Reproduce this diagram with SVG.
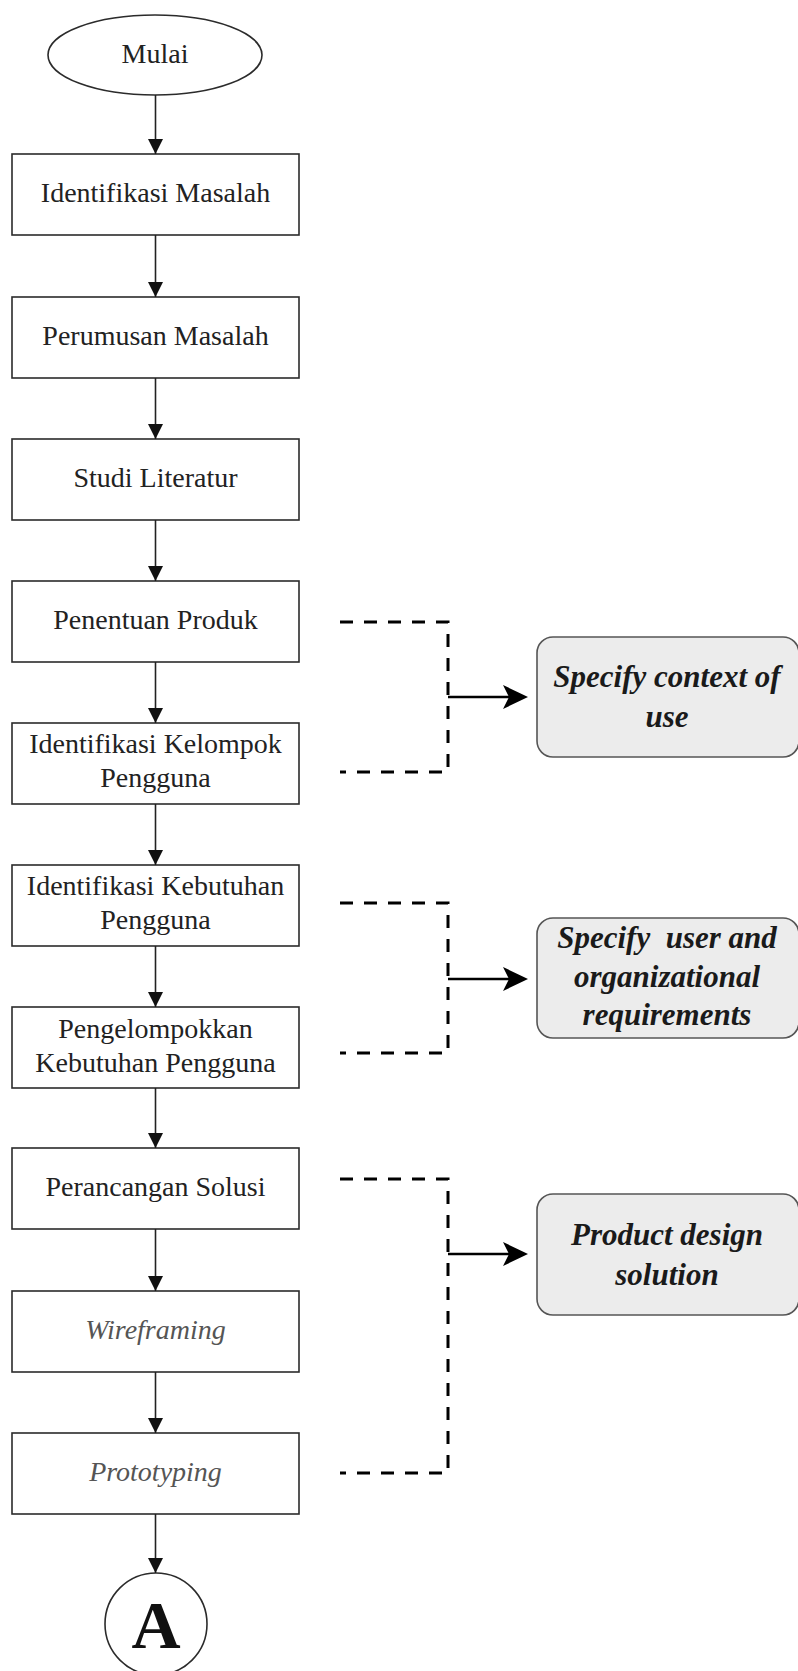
<svg xmlns="http://www.w3.org/2000/svg" width="798" height="1671" viewBox="0 0 798 1671">
  <style>
    .box { fill: #ffffff; stroke: #2b2b2b; stroke-width: 1.6; }
    .lbl { font-family: "Liberation Serif", "Times New Roman", serif; font-size: 28px; fill: #222222; text-anchor: middle; }
    .lbl-i { font-family: "Liberation Serif", "Times New Roman", serif; font-size: 28px; font-style: italic; fill: #555555; text-anchor: middle; }
    .phase { fill: #ececec; stroke: #555555; stroke-width: 1.6; }
    .phase-t { font-family: "Liberation Serif", "Times New Roman", serif; font-size: 31px; font-weight: bold; font-style: italic; fill: #1a1a1a; text-anchor: middle; }
    .flow { fill: none; stroke: #222222; stroke-width: 1.6; }
    .bracket { fill: none; stroke: #000000; stroke-width: 3; stroke-dasharray: 13 11; }
    .link { fill: none; stroke: #000000; stroke-width: 2.6; }
  </style>
  <defs>
    <marker id="down" markerUnits="userSpaceOnUse" markerWidth="16" markerHeight="16" viewBox="0 0 16 16" refX="15" refY="8" orient="auto">
      <path d="M0,0.5 L15,8 L0,15.5 Z" fill="#111111"/>
    </marker>
  </defs>

  <!-- start / end terminators -->
  <g id="start">
    <ellipse cx="155" cy="55" rx="107" ry="40" class="box"/>
    <text x="155" y="63" class="lbl">Mulai</text>
  </g>

  <!-- process steps -->
  <g id="identifikasi-masalah">
    <rect x="12" y="154" width="287" height="81" class="box"/>
    <text x="155.5" y="202" class="lbl">Identifikasi Masalah</text>
  </g>
  <g id="perumusan-masalah">
    <rect x="12" y="297" width="287" height="81" class="box"/>
    <text x="155.5" y="345" class="lbl">Perumusan Masalah</text>
  </g>
  <g id="studi-literatur">
    <rect x="12" y="439" width="287" height="81" class="box"/>
    <text x="155.5" y="487" class="lbl">Studi Literatur</text>
  </g>
  <g id="penentuan-produk">
    <rect x="12" y="581" width="287" height="81" class="box"/>
    <text x="155.5" y="629" class="lbl">Penentuan Produk</text>
  </g>
  <g id="identifikasi-kelompok">
    <rect x="12" y="723" width="287" height="81" class="box"/>
    <text x="155.5" y="753" class="lbl">Identifikasi Kelompok</text>
    <text x="155.5" y="787" class="lbl">Pengguna</text>
  </g>
  <g id="identifikasi-kebutuhan">
    <rect x="12" y="865" width="287" height="81" class="box"/>
    <text x="155.5" y="895" class="lbl">Identifikasi Kebutuhan</text>
    <text x="155.5" y="929" class="lbl">Pengguna</text>
  </g>
  <g id="pengelompokkan-kebutuhan">
    <rect x="12" y="1007" width="287" height="81" class="box"/>
    <text x="155.5" y="1038" class="lbl">Pengelompokkan</text>
    <text x="155.5" y="1072" class="lbl">Kebutuhan Pengguna</text>
  </g>
  <g id="perancangan-solusi">
    <rect x="12" y="1148" width="287" height="81" class="box"/>
    <text x="155.5" y="1196" class="lbl">Perancangan Solusi</text>
  </g>
  <g id="wireframing">
    <rect x="12" y="1291" width="287" height="81" class="box"/>
    <text x="155.5" y="1339" class="lbl-i">Wireframing</text>
  </g>
  <g id="prototyping">
    <rect x="12" y="1433" width="287" height="81" class="box"/>
    <text x="155.5" y="1481" class="lbl-i">Prototyping</text>
  </g>

  <g id="connector-a">
    <circle cx="156" cy="1624" r="51" class="box"/>
    <text x="156" y="1648" font-family="Liberation Serif, Times New Roman, serif" font-size="68" font-weight="bold" fill="#111111" text-anchor="middle">A</text>
  </g>

  <!-- UCD phase boxes -->
  <g id="specify-context">
    <rect x="537" y="637" width="262" height="120" rx="16" class="phase"/>
    <text x="667" y="687" class="phase-t">Specify context of</text>
    <text x="667" y="727" class="phase-t">use</text>
  </g>
  <g id="specify-requirements">
    <rect x="537" y="918" width="262" height="120" rx="16" class="phase"/>
    <text x="667" y="948" class="phase-t" xml:space="preserve">Specify  user and</text>
    <text x="667" y="987" class="phase-t">organizational</text>
    <text x="667" y="1025" class="phase-t">requirements</text>
  </g>
  <g id="design-solution">
    <rect x="537" y="1194" width="262" height="121" rx="16" class="phase"/>
    <text x="667" y="1245" class="phase-t">Product design</text>
    <text x="667" y="1285" class="phase-t">solution</text>
  </g>

  <!-- connectors -->
  <g id="connectors">
    <line x1="155.5" y1="95" x2="155.5" y2="154" class="flow" marker-end="url(#down)"/>
    <line x1="155.5" y1="235" x2="155.5" y2="297" class="flow" marker-end="url(#down)"/>
    <line x1="155.5" y1="378" x2="155.5" y2="439" class="flow" marker-end="url(#down)"/>
    <line x1="155.5" y1="520" x2="155.5" y2="581" class="flow" marker-end="url(#down)"/>
    <line x1="155.5" y1="662" x2="155.5" y2="723" class="flow" marker-end="url(#down)"/>
    <line x1="155.5" y1="804" x2="155.5" y2="865" class="flow" marker-end="url(#down)"/>
    <line x1="155.5" y1="946" x2="155.5" y2="1007" class="flow" marker-end="url(#down)"/>
    <line x1="155.5" y1="1088" x2="155.5" y2="1148" class="flow" marker-end="url(#down)"/>
    <line x1="155.5" y1="1229" x2="155.5" y2="1291" class="flow" marker-end="url(#down)"/>
    <line x1="155.5" y1="1372" x2="155.5" y2="1433" class="flow" marker-end="url(#down)"/>
    <line x1="155.5" y1="1514" x2="155.5" y2="1573" class="flow" marker-end="url(#down)"/>

    <!-- dashed grouping brackets -->
    <path d="M340,622 H448 V772 H340" class="bracket"/>
    <path d="M340,903 H448 V1053 H340" class="bracket"/>
    <path d="M340,1179 H448 V1473 H340" class="bracket"/>

    <!-- bracket to phase arrows -->
    <g>
      <line x1="448" y1="697" x2="510" y2="697" class="link"/>
      <path d="M528,697 L503,685 L509,697 L503,709 Z" fill="#000000"/>
    </g>
    <g>
      <line x1="448" y1="979" x2="510" y2="979" class="link"/>
      <path d="M528,979 L503,967 L509,979 L503,991 Z" fill="#000000"/>
    </g>
    <g>
      <line x1="448" y1="1254" x2="510" y2="1254" class="link"/>
      <path d="M528,1254 L503,1242 L509,1254 L503,1266 Z" fill="#000000"/>
    </g>
  </g>
</svg>
